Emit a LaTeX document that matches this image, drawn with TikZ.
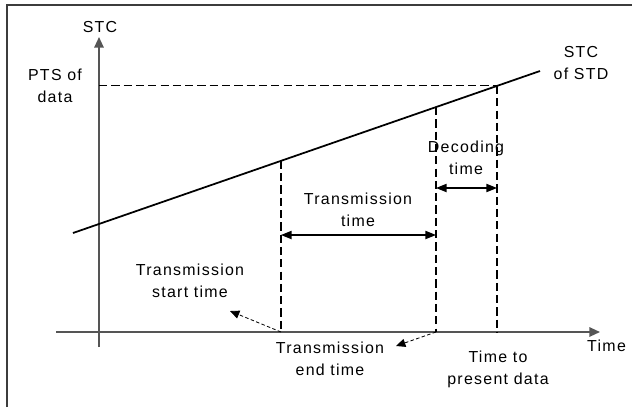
\documentclass[tikz,border=0pt]{standalone}
\usepackage{fontspec}
\setmainfont[LetterSpace=8]{Liberation Sans}
\usepackage{tikz}
\usetikzlibrary{positioning,arrows.meta,calc}
\definecolor{colorblack} {RGB}{  0,  0,  0}
\definecolor{coloraxis}  {RGB}{ 85, 85, 85}
\definecolor{colorframe} {RGB}{ 60, 60, 60}

\begin{document}
\begin{tikzpicture}[
    x=0.03cm, y=-0.03cm,
    label/.style={text=colorblack,font={\fontsize{13.6}{18.7}\selectfont},align=center,inner sep=0pt},
    axis/.style={coloraxis,line width=1.4pt},
    stc/.style={colorblack,line width=1.5pt},
    guide/.style={colorblack,line width=0.9pt,dash pattern=on 7pt off 3.5pt},
    span/.style={<->,colorblack,line width=1pt,>={Triangle[length=9pt,width=7pt]}},
    hint/.style={->,colorblack,line width=0.7pt,densely dashed,>={Triangle[length=8pt,width=7pt]}},
]
    \useasboundingbox (0,0) rectangle (632,407);

    % Frame
    \draw[colorframe,line width=1.1pt] (7,407) -- (7,5) -- (632,5);

    % Axes
    \coordinate (ybottom) at (99,347);
    \coordinate (ytop) at (99,37);
    \coordinate (xleft) at (56,332);
    \coordinate (xright) at (600,332);
    \draw[axis,-{Triangle[length=9pt,width=8pt]}] (ybottom) -- (ytop);
    \draw[axis,-{Triangle[length=9pt,width=8pt]}] (xleft) -- (xright);
    \node[label,anchor=south] at (100,33) (stclabel) {STC};
    \node[label,anchor=west] at (587,346) (timelabel) {Time};

    % STC of STD
    \coordinate (stcstart) at (73,233);
    \coordinate (stcend) at (540,71);
    \draw[stc] (stcstart) -- (stcend);
    \node[label] at (581,63) (stdlabel) {STC\\of STD};

    % Points on the STC line
    \coordinate (start) at ($(stcstart)!0.4454!(stcend)$);
    \coordinate (end) at ($(stcstart)!0.7773!(stcend)$);
    \coordinate (present) at ($(stcstart)!0.9079!(stcend)$);
    \coordinate (startx) at (start |- xleft);
    \coordinate (endx) at (end |- xleft);
    \coordinate (presentx) at (present |- xleft);
    \coordinate (ptsy) at (present -| ytop);

    % Dashed guides
    \draw[guide] (ptsy) -- (present);
    \draw[guide] (start) -- (startx);
    \draw[guide] (end) -- (endx);
    \draw[guide] (present) -- (presentx);
    \node[label] at (55,86) (ptslabel) {PTS of\\data};

    % Transmission time
    \coordinate (trow) at (0,235);
    \draw[span] (start |- trow) -- (end |- trow);
    \node[label] at (358,210) (transmission) {Transmission\\time};

    % Decoding time
    \coordinate (drow) at (0,188);
    \draw[span] (end |- drow) -- (present |- drow);
    \node[label] at (466,158) (decoding) {Decoding\\time};

    % Times on the axis
    \node[label] at (190,281) (startlabel) {Transmission\\start time};
    \node[label] at (330,359) (endlabel) {Transmission\\end time};
    \node[label] at (498,369) (presentlabel) {Time to\\present data};
    \draw[hint] (startx) -- (230,311);
    \draw[hint] (endx) -- (396,346);

\end{tikzpicture}
\end{document}
